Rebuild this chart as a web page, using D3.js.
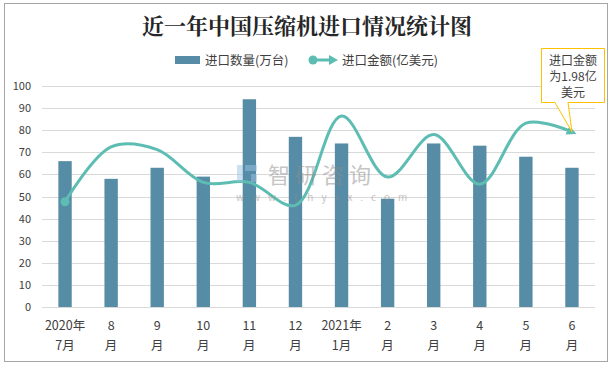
<!DOCTYPE html>
<html><head><meta charset="utf-8">
<script src="https://cdn.jsdelivr.net/npm/d3@7/dist/d3.min.js"></script>
<style>body{margin:0;background:#fff}svg{display:block}</style>
</head><body><svg id="c" width="613" height="367"></svg>
<script>
const categories1 = ["2020年","8","9","10","11","12","2021年","2","3","4","5","6"];
const categories2 = ["7月","月","月","月","月","月","1月","月","月","月","月","月"];
const quantity = [66,58,63,59,94,77,74,49,74,73,68,63];          // 进口数量(万台)
const amount = [1.19,1.81,1.78,1.41,1.41,1.15,2.16,1.47,1.95,1.39,2.08,1.98]; // 进口金额(亿美元)
const yTicks = [0,10,20,30,40,50,60,70,80,90,100];

const svg = d3.select("#c");
const font = "'Microsoft YaHei','Noto Sans CJK SC',sans-serif";
const barColor = "#568ca5", lineColor = "#5dbdb3";

svg.append("rect").attr("x",4.5).attr("y",3.5).attr("width",603).attr("height",358)
  .attr("fill","#fff").attr("stroke","#a6a6a6").attr("stroke-width",1);

const L=42, R=595, T=86, B=307;
const x = d3.scaleBand().domain(d3.range(12)).range([L,R]).paddingInner(0.71).paddingOuter(0.355);
const y = d3.scaleLinear().domain([0,100]).range([B,T]);
const y2 = d3.scaleLinear().domain([0,2.5]).range([B,T]);

// grid
svg.append("g").selectAll("line").data(yTicks).join("line")
  .attr("x1",L).attr("x2",R).attr("y1",d=>Math.round(y(d))+0.5).attr("y2",d=>Math.round(y(d))+0.5)
  .attr("stroke","#d9d9d9").attr("stroke-width",1);

// y axis labels
const yAxis = d3.axisLeft(y).tickValues(yTicks).tickSize(0).tickPadding(11);
const ga = svg.append("g").attr("transform",`translate(${L},0)`).call(yAxis);
ga.select(".domain").remove();
ga.selectAll("text").attr("font-family",font).attr("font-size",11).attr("fill","#404040");

// bars
svg.append("g").selectAll("rect").data(quantity).join("rect")
  .attr("x",(d,i)=>x(i)).attr("width",x.bandwidth())
  .attr("y",d=>y(d)).attr("height",d=>B-y(d)).attr("fill",barColor);

// line
const cx = i => x(i)+x.bandwidth()/2;
const line = d3.line().x((d,i)=>cx(i)).y(d=>y2(d)).curve(d3.curveCatmullRom.alpha(0.5));
svg.append("defs").append("marker").attr("id","arr").attr("viewBox","0 0 10 10")
  .attr("refX",5).attr("refY",5).attr("markerWidth",3.3).attr("markerHeight",3.3).attr("orient","auto")
  .append("path").attr("d","M0,0L10,5L0,10z").attr("fill",lineColor);
svg.append("path").datum(amount).attr("d",line).attr("fill","none").attr("stroke",lineColor)
  .attr("stroke-width",3).attr("marker-end","url(#arr)");
svg.append("circle").attr("cx",cx(0)).attr("cy",y2(amount[0])).attr("r",4.5).attr("fill",lineColor);

// watermark (over the plot, translucent)
const wm = svg.append("g").attr("opacity",0.5);
wm.append("rect").attr("x",237).attr("y",165).attr("width",6).attr("height",17).attr("fill","#9dc3e6");
wm.append("rect").attr("x",245).attr("y",165).attr("width",12).attr("height",6).attr("fill","#9dc3e6");
wm.append("rect").attr("x",251).attr("y",174).attr("width",6).attr("height",8).attr("fill","#9dc3e6");
wm.append("text").attr("x",268).attr("y",183).attr("font-family",font).attr("font-size",22)
  .attr("fill","#8c8c8c").attr("letter-spacing",5).text("智研咨询");
wm.append("text").attr("x",236).attr("y",201).attr("font-family",font).attr("font-size",10)
  .attr("fill","#8c8c8c").attr("letter-spacing",8).text("www.chyxx.com");

// x labels
const gx = svg.append("g");
categories1.forEach((c,i)=>{
  gx.append("text").attr("x",cx(i)).attr("y",330).attr("text-anchor","middle")
    .attr("font-family",font).attr("font-size",12.5).attr("fill","#404040").text(c);
  gx.append("text").attr("x",cx(i)).attr("y",350).attr("text-anchor","middle")
    .attr("font-family",font).attr("font-size",12.5).attr("fill","#404040").text(categories2[i]);
});

// title
svg.append("text").attr("x",307).attr("y",34).attr("text-anchor","middle")
  .attr("font-family","'Noto Serif CJK SC','Noto Sans CJK SC',serif").attr("font-weight","bold")
  .attr("font-size",22).attr("fill","#262626").text("近一年中国压缩机进口情况统计图");

// legend
svg.append("rect").attr("x",175).attr("y",56).attr("width",25).attr("height",8).attr("fill",barColor);
svg.append("text").attr("x",205).attr("y",64.5).attr("font-family",font).attr("font-size",12.5)
  .attr("fill","#404040").text("进口数量(万台)");
svg.append("line").attr("x1",313).attr("x2",332).attr("y1",60).attr("y2",60).attr("stroke",lineColor).attr("stroke-width",3);
svg.append("circle").attr("cx",313).attr("cy",60).attr("r",4.5).attr("fill",lineColor);
svg.append("path").attr("d","M329,55L338,60L329,65z").attr("fill",lineColor);
svg.append("text").attr("x",342).attr("y",64.5).attr("font-family",font).attr("font-size",12.5)
  .attr("fill","#404040").text("进口金额(亿美元)");

// callout
const lx = cx(11), ly = y2(amount[11]);
svg.append("path").attr("d",`M541.5,48.5H604.5V102.5H568L${lx},${ly}L555,102.5H541.5Z`)
  .attr("fill","#fff").attr("stroke","#ffc000").attr("stroke-width",1);
["进口金额","为1.98亿","美元"].forEach((t,i)=>{
  svg.append("text").attr("x",573).attr("y",64.5+i*16).attr("text-anchor","middle")
    .attr("font-family",font).attr("font-size",12).attr("fill","#404040").text(t);
});
</script></body></html>
